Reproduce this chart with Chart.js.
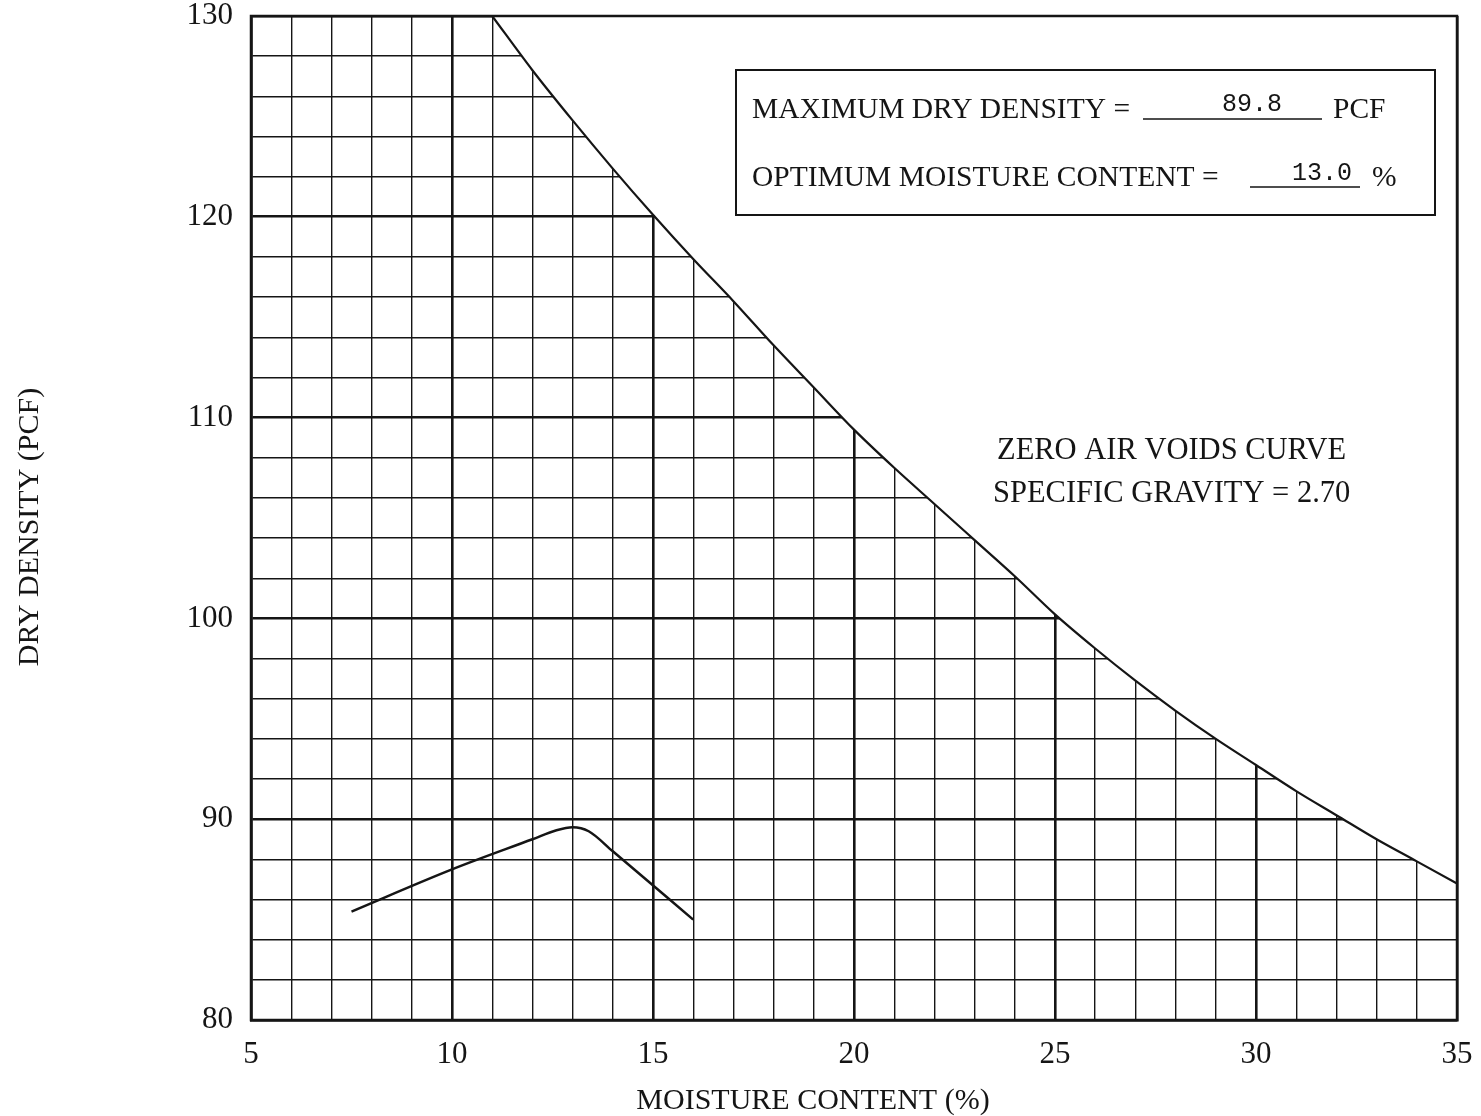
<!DOCTYPE html>
<html>
<head>
<meta charset="utf-8">
<script src="https://cdn.jsdelivr.net/npm/chart.js@4.4.0/dist/chart.umd.min.js"></script>
<style>
  html, body { margin:0; padding:0; background:#fff; }
  #wrap { width:1481px; height:1116px; position:relative; }
</style>
</head>
<body>
<div id="wrap"><canvas id="chart" width="1481" height="1116"></canvas></div>
<script>
// compaction test curve
const moisture   = [7.5, 10, 12, 12.6, 13, 13.4, 14, 16];
const dryDensity = [85.4, 87.5, 89.0, 89.45, 89.6, 89.4, 88.4, 85.0];

// zero air voids curve, Gs = 2.70
const zavMoisture = [11, 12, 13, 14, 15, 16, 17, 18, 19, 20, 21, 22, 23, 24, 25, 26, 27, 28, 29, 30, 31, 32, 33, 34, 35];
const zavDensity  = [130.0, 127.3, 124.8, 122.4, 120.1, 117.9, 115.8, 113.6, 111.5, 109.4, 107.5, 105.7, 103.9,
                     102.1, 100.2, 98.5, 96.9, 95.4, 94.0, 92.7, 91.4, 90.2, 89.0, 87.9, 86.8];

const xTicks = [5, 10, 15, 20, 25, 30, 35];
const yTicks = [80, 90, 100, 110, 120, 130];

const maxDryDensity = "89.8";
const optMoisture = "13.0";

const SERIF = "'Liberation Serif', 'Times New Roman', serif";
const MONO = "'Liberation Mono', 'DejaVu Sans Mono', monospace";
const INK = "#151515";

// frame, annotation box and axis titles
const paperPlugin = {
  id: "paper",
  afterDatasetsDraw(chart) {
    const { ctx, chartArea: a } = chart;
    ctx.save();
    ctx.strokeStyle = INK;
    ctx.lineWidth = 2.5;
    ctx.strokeRect(a.left, a.top, a.right - a.left, a.bottom - a.top);
    ctx.restore();
  },
  afterDraw(chart) {
    const { ctx } = chart;
    ctx.save();
    ctx.fillStyle = INK;
    ctx.strokeStyle = INK;

    // result box
    ctx.lineWidth = 2;
    ctx.strokeRect(736, 70, 699, 145);
    ctx.font = "29.5px " + SERIF;
    ctx.textBaseline = "alphabetic";
    ctx.textAlign = "left";
    ctx.fillText("MAXIMUM DRY DENSITY =", 752, 118);
    ctx.fillText("PCF", 1333, 118);
    ctx.fillText("OPTIMUM MOISTURE CONTENT =", 752, 186);
    ctx.fillText("%", 1372, 186);
    ctx.lineWidth = 1.6;
    ctx.beginPath();
    ctx.moveTo(1143, 119); ctx.lineTo(1322, 119);
    ctx.moveTo(1250, 187); ctx.lineTo(1360, 187);
    ctx.stroke();
    ctx.font = "25px " + MONO;
    ctx.textAlign = "center";
    ctx.fillText(maxDryDensity, 1252, 111);
    ctx.fillText(optMoisture, 1322, 180);

    // zero air voids label
    ctx.font = "30.5px " + SERIF;
    ctx.textAlign = "left";
    ctx.fillText("ZERO AIR VOIDS CURVE", 997, 459);
    ctx.fillText("SPECIFIC GRAVITY = 2.70", 993, 502);

    // axis titles
    ctx.font = "30px " + SERIF;
    ctx.textAlign = "center";
    ctx.textBaseline = "middle";
    ctx.fillText("MOISTURE CONTENT (%)", 813, 1101);
    ctx.translate(30, 527);
    ctx.rotate(-Math.PI / 2);
    ctx.fillText("DRY DENSITY (PCF)", 0, 0);
    ctx.restore();
  }
};

const ctx = document.getElementById("chart");

new Chart(ctx, {
  type: "scatter",
  data: {
    datasets: [
      {
        label: "Zero air voids",
        data: zavMoisture.map((x, i) => ({ x, y: zavDensity[i] })),
        showLine: true,
        borderColor: INK,
        borderWidth: 2.2,
        backgroundColor: "#ffffff",
        fill: "end",
        pointRadius: 0,
        cubicInterpolationMode: "monotone"
      },
      {
        label: "Compaction",
        data: moisture.map((x, i) => ({ x, y: dryDensity[i] })),
        showLine: true,
        borderColor: INK,
        borderWidth: 2.5,
        fill: false,
        pointRadius: 0,
        cubicInterpolationMode: "monotone"
      }
    ]
  },
  options: {
    responsive: false,
    animation: false,
    layout: { padding: { left: 0, right: 24, top: 16, bottom: 0 } },
    plugins: { legend: { display: false }, tooltip: { enabled: false } },
    scales: {
      x: {
        type: "linear",
        min: 5,
        max: 35,
        afterFit(scale) {
          scale.height = 96;
          scale.paddingLeft = 0;
          scale.paddingRight = 0;
        },
        afterBuildTicks(scale) {
          scale.ticks = [];
          for (let v = 5; v <= 35; v++) scale.ticks.push({ value: v });
        },
        ticks: {
          autoSkip: false,
          maxRotation: 0,
          padding: 16,
          color: INK,
          font: { family: SERIF, size: 31 },
          callback: v => xTicks.includes(v) ? String(v) : ""
        },
        grid: {
          drawTicks: false,
          color: INK,
          lineWidth: c => (c.tick && c.tick.value % 5 === 0) ? 2.6 : 1.4
        },
        border: { display: true, color: INK, width: 2.5 }
      },
      y: {
        type: "linear",
        min: 80,
        max: 130,
        afterFit(scale) {
          scale.width = 251;
          scale.paddingTop = 0;
          scale.paddingBottom = 0;
        },
        afterBuildTicks(scale) {
          scale.ticks = [];
          for (let v = 80; v <= 130; v += 2) scale.ticks.push({ value: v });
        },
        ticks: {
          autoSkip: false,
          padding: 18,
          color: INK,
          font: { family: SERIF, size: 31 },
          callback: v => yTicks.includes(v) ? String(v) : ""
        },
        grid: {
          drawTicks: false,
          color: INK,
          lineWidth: c => (c.tick && c.tick.value % 10 === 0) ? 2.6 : 1.4
        },
        border: { display: true, color: INK, width: 2.5 }
      }
    }
  },
  plugins: [paperPlugin]
});
</script>
</body>
</html>
